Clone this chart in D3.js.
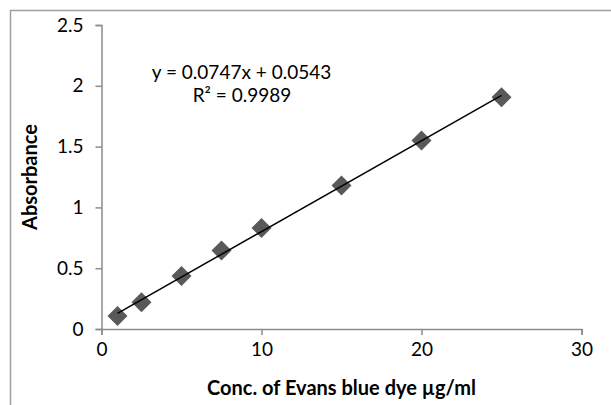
<!DOCTYPE html>
<html>
<head>
<meta charset="utf-8">
<script src="https://cdn.jsdelivr.net/npm/d3@7"></script>
<style>
  html, body { margin: 0; padding: 0; background: #fff; }
  svg { display: block; }
  text { font-family: Lato, "Open Sans", sans-serif; fill: #000; }
</style>
</head>
<body>
<svg id="chart" width="611" height="405"></svg>
<script>
// Data
const concentrations = [1, 2.5, 5, 7.5, 10, 15, 20, 25];
const absorbance = [0.107, 0.22, 0.435, 0.645, 0.83, 1.18, 1.55, 1.905];
const slope = 0.0747;
const intercept = 0.0543;
const xTicks = [0, 10, 20, 30];
const yTicks = [0, 0.5, 1, 1.5, 2, 2.5];
const equationLabel = "y = 0.0747x + 0.0543";
const r2Label = "R² = 0.9989";
const xTitle = "Conc. of Evans blue dye µg/ml";
const yTitle = "Absorbance";

const svg = d3.select("#chart");

// chart area frame
svg.append("rect")
  .attr("x", 10.5).attr("y", 10.5)
  .attr("width", 640).attr("height", 420)
  .attr("fill", "#fff")
  .attr("stroke", "#a0a0a0")
  .attr("stroke-width", 1.5);

const x = d3.scaleLinear().domain([0, 30]).range([101.5, 581.5]);
const y = d3.scaleLinear().domain([0, 2.5]).range([329, 25]);

const axisColor = "#8c8c8c";

// y axis
const gy = svg.append("g").attr("transform", `translate(${x(0)},0)`)
  .call(d3.axisLeft(y).tickValues(yTicks).tickSize(6).tickPadding(12)
    .tickFormat(d => d3.format("")(d)));
gy.select(".domain").attr("stroke", axisColor).attr("stroke-width", 1.5);
gy.selectAll(".tick line").attr("stroke", axisColor).attr("stroke-width", 1.5);
gy.selectAll(".tick text").attr("font-size", 19).attr("font-family", "Lato, sans-serif");

// x axis
const gx = svg.append("g").attr("transform", `translate(0,${y(0)})`)
  .call(d3.axisBottom(x).tickValues(xTicks).tickSize(6).tickPadding(8)
    .tickFormat(d3.format("d")));
gx.select(".domain").attr("stroke", axisColor).attr("stroke-width", 1.5);
gx.selectAll(".tick line").attr("stroke", axisColor).attr("stroke-width", 1.5);
gx.selectAll(".tick text").attr("font-size", 19).attr("font-family", "Lato, sans-serif");

// markers (diamonds)
const sym = d3.symbol().type(d3.symbolSquare).size(200);
svg.selectAll("path.pt")
  .data(concentrations.map((c, i) => [c, absorbance[i]]))
  .join("path")
  .attr("class", "pt")
  .attr("d", sym)
  .attr("transform", d => `translate(${x(d[0])},${y(d[1])}) rotate(45)`)
  .attr("fill", "#595959");

// trendline on top of markers
const xMin = d3.min(concentrations), xMax = d3.max(concentrations);
svg.append("line")
  .attr("x1", x(xMin)).attr("y1", y(slope * xMin + intercept))
  .attr("x2", x(xMax)).attr("y2", y(slope * xMax + intercept))
  .attr("stroke", "#000").attr("stroke-width", 1.5);

// equation labels
svg.append("text").attr("x", 241.5).attr("y", 79)
  .attr("text-anchor", "middle").attr("font-size", 19).text(equationLabel);
svg.append("text").attr("x", 242).attr("y", 102)
  .attr("text-anchor", "middle").attr("font-size", 19).text(r2Label);

// axis titles
svg.append("text").attr("x", 341.5).attr("y", 395)
  .attr("text-anchor", "middle").attr("font-size", 20).attr("font-weight", "bold")
  .text(xTitle);
svg.append("text")
  .attr("transform", `translate(37,${(25 + 329) / 2}) rotate(-90)`)
  .attr("text-anchor", "middle").attr("font-size", 20).attr("font-weight", "bold")
  .text(yTitle);
</script>
</body>
</html>
